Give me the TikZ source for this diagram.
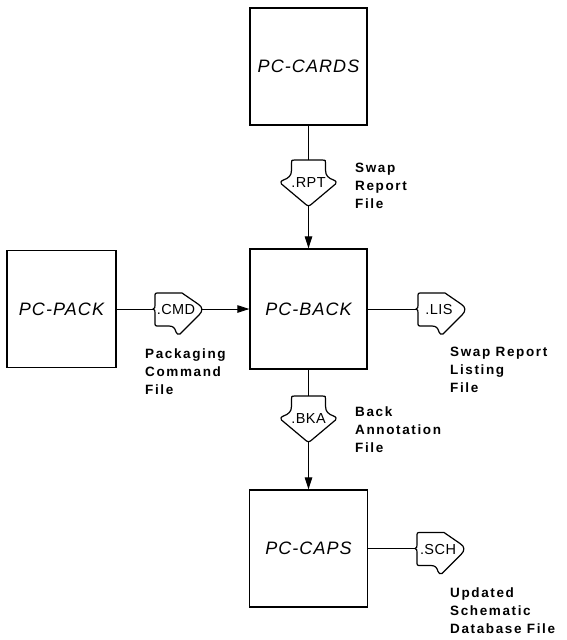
\documentclass[tikz,border=0pt]{standalone}
\usepackage{fontspec}
\setmainfont{Liberation Sans}
\newfontfamily\boxfont[LetterSpace=6]{Liberation Sans}
\newfontfamily\lblfont[LetterSpace=12]{Liberation Sans}
\newfontfamily\extfont[LetterSpace=3]{Liberation Sans}
\usetikzlibrary{arrows.meta}
\tikzset{
  box/.style={draw, line width=1.3pt, inner sep=0pt,
    font=\boxfont\itshape\fontsize{18}{20}\selectfont},
  conn/.style={line width=0.9pt},
  arr/.style={conn, -{Triangle[length=12pt,width=7.5pt]}},
  fsym/.style={line width=1.2pt, line join=round},
  ftext/.style={inner sep=0pt, font=\extfont\fontsize{14.5}{16}\selectfont},
  desc/.style={anchor=north west, inner sep=0pt, align=left,
    font=\lblfont\bfseries\fontsize{13.5}{17.7}\selectfont},
  dfile/.pic={
    \draw[fsym] (0,0) -- (-14,0) .. controls (-17,0) .. (-17,3) -- (-17,10)
      .. controls (-17,16) and (-20,18) .. (-25,20)
      .. controls (-28,21) and (-28,23) .. (-27,24)
      -- (-2,45) .. controls (-1,46) and (1,46) .. (2,45)
      -- (27,24) .. controls (28,23) and (28,21) .. (25,20)
      .. controls (20,18) and (17,16) .. (17,10)
      -- (17,3) .. controls (17,0) .. (14,0) -- cycle;
    \node[ftext] at (0,23) {#1};
    \coordinate (-back) at (0,0);
    \coordinate (-tip) at (0,45.7);
  },
  rfile/.pic={
    \draw[fsym] (0,0) .. controls (2,-1) .. (2,-4) -- (2,-12)
      .. controls (2,-16) .. (6,-16) -- (29,-16) -- (45,-5)
      .. controls (50,-2) and (50,2) .. (46,6) -- (27,25)
      .. controls (25,26) and (24,25) .. (23,23)
      .. controls (22,19) and (20,17) .. (16,17) -- (6,17)
      .. controls (2,17) .. (2,13) -- (2,4) .. controls (2,1) .. (0,0) -- cycle;
    \node[ftext] at (23,1) {#1};
    \coordinate (-back) at (0,0);
    \coordinate (-tip) at (49,0);
  },
}
\begin{document}
\begin{tikzpicture}[x=1pt,y=-1pt]
\useasboundingbox (0,0) rectangle (566,640);
% boxes
\node[box, minimum width=117pt, minimum height=117pt] (cards) at (308.5,66.5) {PC-CARDS};
\node[box, minimum width=117pt, minimum height=120pt] (back) at (308.5,309) {PC-BACK};
\node[box, minimum width=109pt, minimum height=117pt] (pack) at (61.5,309) {PC-PACK};
\node[box, minimum width=118pt, minimum height=117pt] (caps) at (308.5,548.5) {PC-CAPS};
% file symbols
\pic (rpt) at (308.5,160) {dfile=.RPT};
\pic (bka) at (308.5,396) {dfile=.BKA};
\pic (cmd) at (153,309) {rfile=.CMD};
\pic (lis) at (416,309) {rfile=.LIS};
\pic (sch) at (415,548.5) {rfile=.SCH};
% connectors
\draw[conn] (cards.south) -- (rpt-back);
\draw[arr] (rpt-tip) -- (back.north);
\draw[conn] (pack.east) -- (cmd-back);
\draw[arr] (cmd-tip) -- (back.west);
\draw[conn] (back.east) -- (lis-back);
\draw[conn] (back.south) -- (bka-back);
\draw[arr] (bka-tip) -- (caps.north);
\draw[conn] (caps.east) -- (sch-back);
% descriptions
\node[desc] (rptd) at (355,163) {Swap\\Report\\File};
\node[desc] (cmdd) at (145,349) {Packaging\\Command\\File};
\node[desc] (lisd) at (450,347) {Swap Report\\Listing\\File};
\node[desc] (bkad) at (355,407) {Back\\Annotation\\File};
\node[desc] (schd) at (450,588) {Updated\\Schematic\\Database File};
\end{tikzpicture}
\end{document}
